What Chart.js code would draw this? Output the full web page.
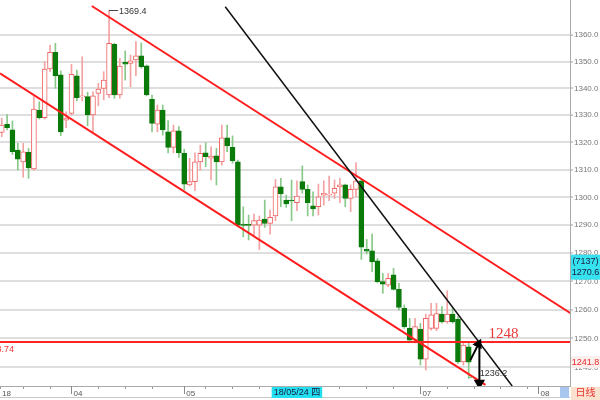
<!DOCTYPE html>
<html>
<head>
<meta charset="utf-8">
<script src="https://cdn.jsdelivr.net/npm/chart.js@4.4.1/dist/chart.umd.min.js"></script>
<style>
  html, body { margin: 0; padding: 0; background: #fff; }
  #wrap { width: 600px; height: 400px; position: relative; }
</style>
</head>
<body>
<div id="wrap"><canvas id="kline"></canvas></div>
<script>
// K线数据 (日线), index 0 = 最左边一根
var opens = [1323.7, 1326.7, 1324.6, 1317.2, 1312.9, 1316.4, 1310.3, 1331.9, 1329.1, 1347.2,
  1353.5, 1345.0, 1328.2, 1330.7, 1344.7, 1336.8, 1336.9, 1330.1, 1338.1, 1340.0,
  1337.5, 1356.5, 1337.5, 1349.7, 1349.3, 1350.6, 1352.2, 1348.4, 1335.9, 1326.7,
  1331.9, 1323.9, 1318.2, 1324.3, 1316.0, 1304.5, 1305.7, 1312.9, 1316.2, 1314.2,
  1315.1, 1312.9, 1321.7, 1318.2, 1312.9, 1290.4, 1290.2, 1290.0, 1290.0, 1292.2,
  1290.6, 1293.3, 1303.8, 1299.0, 1299.0, 1298.1, 1305.7, 1302.9, 1296.9, 1296.6,
  1300.8, 1300.8, 1301.5, 1303.8, 1304.5, 1299.6, 1302.9, 1306.0, 1281.4, 1280.8,
  1277.3, 1269.9, 1268.7, 1272.3, 1267.2, 1260.5, 1253.5, 1249.4, 1253.2, 1242.8,
  1253.5, 1253.5, 1258.5, 1255.8, 1258.5, 1256.7, 1241.9, 1247.1];
var highs = [1328.9, 1330.3, 1327.9, 1319.7, 1319.7, 1317.8, 1336.9, 1335.0, 1349.9, 1356.2,
  1356.9, 1346.5, 1331.3, 1349.0, 1346.8, 1351.8, 1338.5, 1338.7, 1341.9, 1346.2,
  1369.4, 1356.9, 1351.2, 1354.0, 1352.5, 1357.5, 1357.0, 1348.7, 1337.5, 1333.8,
  1333.8, 1328.0, 1326.4, 1325.8, 1317.5, 1314.2, 1316.2, 1319.0, 1319.9, 1318.4,
  1317.8, 1326.4, 1326.4, 1322.4, 1313.5, 1296.6, 1293.6, 1294.0, 1293.3, 1299.0,
  1295.4, 1306.5, 1306.9, 1300.8, 1306.3, 1306.0, 1311.4, 1304.5, 1302.0, 1304.8,
  1306.0, 1307.7, 1306.3, 1306.9, 1304.8, 1304.5, 1312.6, 1306.5, 1284.9, 1286.8,
  1278.1, 1272.8, 1272.8, 1274.6, 1269.3, 1261.7, 1257.0, 1257.0, 1255.3, 1258.5,
  1262.3, 1262.3, 1261.1, 1266.7, 1260.5, 1257.6, 1248.5, 1248.3];
var lows = [1322.1, 1324.6, 1315.6, 1309.9, 1307.3, 1306.9, 1309.9, 1328.6, 1328.6, 1346.2,
  1340.0, 1322.5, 1325.4, 1330.1, 1335.3, 1335.3, 1326.1, 1323.9, 1333.5, 1335.7,
  1336.5, 1336.3, 1336.3, 1343.1, 1340.6, 1344.7, 1347.5, 1337.2, 1323.9, 1323.9,
  1322.7, 1316.2, 1316.2, 1314.5, 1302.6, 1304.1, 1302.4, 1309.9, 1311.1, 1306.3,
  1304.5, 1311.7, 1316.6, 1312.4, 1289.4, 1285.8, 1284.7, 1286.5, 1281.3, 1289.2,
  1286.8, 1291.6, 1296.6, 1296.4, 1291.6, 1295.2, 1301.5, 1293.3, 1293.3, 1293.6,
  1297.2, 1298.8, 1299.6, 1298.1, 1296.6, 1294.8, 1300.2, 1277.8, 1279.7, 1273.4,
  1269.5, 1265.8, 1268.1, 1266.9, 1259.9, 1253.5, 1248.8, 1248.5, 1240.8, 1239.1,
  1252.9, 1252.7, 1255.3, 1255.3, 1255.3, 1241.4, 1240.8, 1236.2];
var closes = [1326.4, 1325.4, 1316.6, 1313.9, 1316.6, 1310.7, 1332.3, 1329.1, 1347.2, 1353.5,
  1344.6, 1323.9, 1329.0, 1345.2, 1336.5, 1337.1, 1330.1, 1337.2, 1339.7, 1343.1,
  1356.9, 1337.5, 1348.3, 1349.0, 1350.3, 1352.2, 1348.1, 1337.5, 1327.0, 1331.9,
  1324.6, 1318.2, 1324.3, 1316.2, 1304.8, 1305.7, 1312.9, 1316.0, 1314.8, 1315.0,
  1312.9, 1321.7, 1318.7, 1313.3, 1290.0, 1289.9, 1289.9, 1291.6, 1291.8, 1290.6,
  1292.8, 1303.8, 1301.2, 1297.6, 1298.7, 1300.5, 1302.9, 1298.1, 1295.8, 1300.2,
  1301.5, 1301.2, 1303.3, 1304.5, 1299.6, 1302.9, 1306.0, 1282.1, 1280.7, 1276.9,
  1269.9, 1269.0, 1271.1, 1267.2, 1260.8, 1254.1, 1249.4, 1254.1, 1242.8, 1257.0,
  1258.2, 1258.7, 1255.8, 1258.5, 1255.8, 1241.9, 1247.7, 1241.8];

// 价格轴 (对数刻度)
var priceTicks = [1240, 1250, 1260, 1270, 1280, 1290, 1300, 1310, 1320, 1330, 1340, 1350, 1360];
var yMin = 1233.6, yMax = 1373.3;
var xMin = -0.32,  xMax = 105.87;

// 时间轴: 周刻度 + 月份
var weekTicks   = [4, 9, 18, 23, 28, 38, 43, 48, 53, 58, 63, 68, 73, 83, 88, 93, 98];
var monthTicks  = [13, 34, 78, 100];
var monthLabels = ["04", "05", "07", "08"];
var firstLabel  = "18";

// 画线 [index, price]
var upperChannel = [[16.78, 1371.0], [105.97, 1258.8]];
var lowerChannel = [[-0.32, 1345.6], [90.12, 1234.0]];
var blackTrend   = [[41.64, 1370.7], [95.1, 1233.6]];
var levelPrice   = 1248.74;
var arrowUp      = [[87.31, 1242.5], [88.81, 1248.05]];
var arrowDown    = [[88.99, 1247.7], [88.99, 1234.6]];

// 标注
var highIdx = 20, highText = "1369.4";
var lowIdx  = 87, lowText  = "1236.2";
var levelText = "1248", levelLeftText = "1248.74";
var lastClose = 1241.8;
var curPrice = 1270.6, curVol = "(7137)";
var cursorDate = "18/05/24 四", cursorIdx = 55;
var periodText = "日线";

var FONT = "'Liberation Sans', Arial, sans-serif";
var CJK  = "'Liberation Sans', 'Noto Sans CJK SC', sans-serif";
var RED_BODY = "#ef6464", RED_WICK = "#f4a2a2";
var GREEN_BODY = "#0a7a0a", GREEN_WICK = "#88c888";

function isUp(i) { return closes[i] >= opens[i]; }
function pts(arr) { return arr.map(function(p) { return { x: p[0], y: p[1] }; }); }

var xTickList = [xMin].concat(weekTicks, monthTicks).sort(function(a, b) { return a - b; });

function xLabel(v) {
  if (v === xMin) return firstLabel;
  var k = monthTicks.indexOf(v);
  return k >= 0 ? monthLabels[k] : "";
}

// 叠加层: 标注文字, 右侧价格框, 底部日期框
var overlay = {
  id: "overlay",
  afterDraw: function(chart) {
    var ctx = chart.ctx, xs = chart.scales.x, ys = chart.scales.y, a = chart.chartArea;
    ctx.save();

    // 月份长刻度
    ctx.strokeStyle = "#888"; ctx.lineWidth = 1;
    monthTicks.forEach(function(m) {
      var px = Math.round(xs.getPixelForValue(m)) + 0.5;
      ctx.beginPath(); ctx.moveTo(px, a.bottom); ctx.lineTo(px, a.bottom + 8); ctx.stroke();
    });
    // 底部边线
    ctx.strokeStyle = "#c8c8c8";
    ctx.beginPath(); ctx.moveTo(0, chart.height - 2.5); ctx.lineTo(a.right, chart.height - 2.5); ctx.stroke();

    // 最高价标注
    var hx = xs.getPixelForValue(highIdx), hy = ys.getPixelForValue(highs[highIdx]);
    ctx.strokeStyle = "#444"; ctx.lineWidth = 1;
    ctx.beginPath(); ctx.moveTo(hx, Math.round(hy) + 0.5); ctx.lineTo(hx + 9, Math.round(hy) + 0.5); ctx.stroke();
    ctx.fillStyle = "#333"; ctx.font = "9px " + FONT;
    ctx.textAlign = "left"; ctx.textBaseline = "middle";
    ctx.fillText(highText, hx + 10, hy + 1);

    // 最低价标注
    var lx = xs.getPixelForValue(lowIdx), ly = ys.getPixelForValue(lows[lowIdx]);
    ctx.strokeStyle = GREEN_WICK;
    ctx.beginPath(); ctx.moveTo(lx, Math.round(ly) - 0.5); ctx.lineTo(lx + 4, Math.round(ly) - 0.5); ctx.stroke();
    ctx.fillStyle = "#333";
    ctx.fillText(lowText, lx + 11, ly - 5);

    // 水平线文字
    var lvY = ys.getPixelForValue(levelPrice);
    ctx.fillStyle = "#e8383a"; ctx.font = "15px 'Liberation Serif', 'Times New Roman', serif";
    ctx.textBaseline = "alphabetic";
    ctx.fillText(levelText, xs.getPixelForValue(90.7), lvY - 4);
    ctx.font = "9px " + FONT; ctx.textAlign = "right"; ctx.textBaseline = "middle";
    ctx.fillStyle = "#f03333";
    ctx.fillText(levelLeftText, 14, lvY + 7);

    // 右侧: 当前价框
    var bx = a.right + 1, bw = chart.width - bx;
    var cy = ys.getPixelForValue(curPrice);
    ctx.fillStyle = "#35e2ee";
    ctx.fillRect(bx, cy - 25, bw, 25);
    ctx.fillStyle = "#1a1a40"; ctx.font = "9px " + FONT; ctx.textAlign = "center";
    ctx.fillText(curVol, bx + bw / 2, cy - 18);
    ctx.fillText(curPrice.toFixed(1), bx + bw / 2, cy - 7);

    // 右侧: 收盘价
    var ccy = ys.getPixelForValue(lastClose);
    ctx.fillStyle = "#fdeeee";
    ctx.fillRect(bx, ccy - 6, bw, 12);
    ctx.fillStyle = "#e42a2a";
    ctx.fillText(lastClose.toFixed(1), bx + bw / 2, ccy + 0.5);

    // 右下: 日线
    ctx.fillStyle = "#fbe2cf";
    ctx.fillRect(bx, a.bottom + 1, bw, chart.height - a.bottom - 1);
    ctx.fillStyle = "#e53030"; ctx.font = "10px " + CJK;
    ctx.fillText(periodText, bx + bw / 2, a.bottom + 7.5);
    ctx.fillStyle = "#a8c6ee";
    ctx.fillRect(a.right - 10, a.bottom + 1, 9, 11);

    // 底部: 光标日期
    ctx.font = "9px " + CJK;
    var dw = ctx.measureText(cursorDate).width + 4;
    var dx = xs.getPixelForValue(cursorIdx);
    ctx.fillStyle = "#22e0f0";
    ctx.fillRect(dx - dw / 2, a.bottom + 1, dw, 11);
    ctx.fillStyle = "#1a1a40";
    ctx.fillText(cursorDate, dx, a.bottom + 7);

    ctx.restore();
  }
};

var lineStyle = { type: "line", pointRadius: 0, tension: 0, borderWidth: 2, fill: false };

new Chart(document.getElementById("kline"), {
  type: "bar",
  data: {
    datasets: [
      {
        label: "wick",
        data: opens.map(function(o, i) { return { x: i, y: [lows[i], highs[i]] }; }),
        backgroundColor: function(c) { return isUp(c.dataIndex) ? RED_WICK : GREEN_WICK; },
        barThickness: 1, grouped: false, order: 5
      },
      {
        label: "body",
        data: opens.map(function(o, i) { return { x: i, y: [o, closes[i]] }; }),
        backgroundColor: function(c) { return isUp(c.dataIndex) ? "#ffffff" : GREEN_BODY; },
        borderColor: function(c) { return isUp(c.dataIndex) ? RED_BODY : GREEN_BODY; },
        borderWidth: 1, borderSkipped: false, minBarLength: 1,
        barThickness: 5, grouped: false, order: 4
      },
      Object.assign({}, lineStyle, { label: "upper", data: pts(upperChannel), borderColor: "#ff1c1c", order: 3 }),
      Object.assign({}, lineStyle, { label: "lower", data: pts(lowerChannel), borderColor: "#ff1c1c", order: 3 }),
      Object.assign({}, lineStyle, { label: "trend", data: pts(blackTrend), borderColor: "#111", borderWidth: 1.5, order: 2 }),
      Object.assign({}, lineStyle, { label: "level", data: [{ x: xMin, y: levelPrice }, { x: xMax, y: levelPrice }], borderColor: "#ff2424", order: 2 }),
      Object.assign({}, lineStyle, {
        label: "arrowUp", data: pts(arrowUp), borderColor: "#000",
        pointRadius: [0, 4], pointStyle: "triangle", pointRotation: [0, 27],
        pointBackgroundColor: "#000", pointBorderColor: "#000", order: 1
      }),
      Object.assign({}, lineStyle, {
        label: "arrowDown", data: pts(arrowDown), borderColor: "#000",
        pointRadius: [0, 4.5], pointStyle: "triangle", pointRotation: [0, 180],
        pointBackgroundColor: "#000", pointBorderColor: "#000", order: 1
      })
    ]
  },
  options: {
    responsive: true,
    maintainAspectRatio: false,
    animation: false,
    devicePixelRatio: 1,
    layout: { padding: 0, autoPadding: false },
    events: [],
    plugins: { legend: { display: false }, tooltip: { enabled: false } },
    scales: {
      x: {
        type: "linear", position: "bottom", min: xMin, max: xMax, offset: false,
        afterBuildTicks: function(s) { s.ticks = xTickList.map(function(v) { return { value: v }; }); },
        afterFit: function(s) { s.height = 14; s.paddingLeft = 0; s.paddingRight = 0; },
        ticks: {
          autoSkip: false, maxRotation: 0, align: "start", labelOffset: 2, padding: 0,
          font: { size: 8, family: FONT }, color: "#555",
          callback: function(v) { return xLabel(v); }
        },
        grid: { offset: false, drawOnChartArea: false, drawTicks: true, tickLength: 3, tickColor: "#999" },
        border: { color: "#aaa" }
      },
      y: {
        type: "logarithmic", position: "right", min: yMin, max: yMax, bounds: "data",
        afterBuildTicks: function(s) { s.ticks = priceTicks.map(function(v) { return { value: v }; }); },
        afterFit: function(s) { s.width = 30; s.paddingTop = 0; s.paddingBottom = 0; },
        ticks: {
          font: { size: 8, family: FONT }, color: "#777", padding: 1,
          callback: function(v) { return Number(v).toFixed(1); }
        },
        grid: { color: "#dedede", lineWidth: 2, tickLength: 3, tickColor: "#cfcfcf" },
        border: { color: "#aaa" }
      }
    }
  },
  plugins: [overlay]
});
</script>
</body>
</html>
